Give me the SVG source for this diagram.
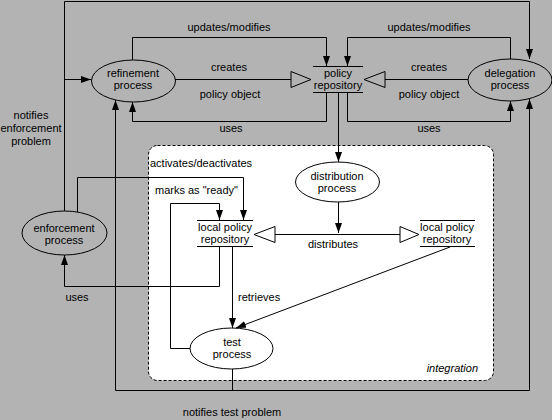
<svg xmlns="http://www.w3.org/2000/svg" width="552" height="420" viewBox="0 0 552 420">
<style>
text{font-family:"Liberation Sans",Arial,sans-serif;font-size:11px;fill:#000}
.c{text-anchor:middle}
.ln{fill:none;stroke:#000;stroke-width:1}
.el{fill:none;stroke:#000;stroke-width:1}
.tri{fill:none;stroke:#000;stroke-width:1}
</style>
<defs>
<marker id="ah" markerUnits="userSpaceOnUse" markerWidth="12" markerHeight="8" refX="10" refY="3.5" orient="auto">
<path d="M0,0 L10,3.5 L0,7 z" fill="#000"/>
</marker>
</defs>
<rect x="0" y="0" width="552" height="420" fill="#b3b3b3"/>
<g id="integration">
<rect x="148.5" y="145.5" width="345" height="235" rx="9" fill="#fff" stroke="#000" stroke-dasharray="3,2"/>
<text x="478" y="372" text-anchor="end" font-style="italic">integration</text>
</g>
<g id="connectors">
<path class="ln" d="M64.5,211 V1.5 H529.5 V59" marker-end="url(#ah)"/>
<path class="ln" d="M64.5,79.5 H91" marker-end="url(#ah)"/>
<path class="ln" d="M132.5,60 V37.5 H326.5 V66" marker-end="url(#ah)"/>
<path class="ln" d="M510.5,59 V37.5 H347.5 V66" marker-end="url(#ah)"/>
<path class="ln" d="M175,79.5 H291"/>
<path class="ln" d="M468,79.5 H385"/>
<path class="ln" d="M326.5,93 V121.5 H132.5 V102" marker-end="url(#ah)"/>
<path class="ln" d="M347.5,93 V121.5 H510.5 V101" marker-end="url(#ah)"/>
<path class="ln" d="M338.5,93 V162" marker-end="url(#ah)"/>
<path class="ln" d="M338.5,202 V233" marker-end="url(#ah)"/>
<path class="ln" d="M275,234.5 H400"/>
<path class="ln" d="M115.5,390.5 V100" marker-end="url(#ah)"/>
<path class="ln" d="M115.5,390.5 H529.5 V99" marker-end="url(#ah)"/>
<path class="ln" d="M232.5,369 V390.5"/>
<path class="ln" d="M77.5,212 V177.5 H243.5 V220" marker-end="url(#ah)"/>
<path class="ln" d="M190,348.5 H170.5 V203.5 H219.5 V220" marker-end="url(#ah)"/>
<path class="ln" d="M219.5,247 V286.5 H64.5 V255" marker-end="url(#ah)"/>
<path class="ln" d="M232.5,247 V328" marker-end="url(#ah)"/>
<path class="ln" d="M450,247 L236,328" marker-end="url(#ah)"/>
<polygon class="tri" points="291,71.5 311,79.5 291,87.5"/>
<polygon class="tri" points="385,71.5 364,79.5 385,87.5"/>
<polygon class="tri" points="275,226.5 254,234.5 275,242.5"/>
<polygon class="tri" points="400,226.5 419,234.5 400,242.5"/>
<text class="c" x="229" y="31">updates/modifies</text>
<text class="c" x="429" y="31">updates/modifies</text>
<text class="c" x="229" y="71">creates</text>
<text class="c" x="429" y="71">creates</text>
<text class="c" x="230" y="98">policy object</text>
<text class="c" x="429" y="98">policy object</text>
<text class="c" x="231" y="132">uses</text>
<text class="c" x="429" y="132">uses</text>
<text class="c" x="31" y="119">notifies</text>
<text class="c" x="31" y="132">enforcement</text>
<text class="c" x="31" y="145">problem</text>
<text x="150" y="167">activates/deactivates</text>
<text x="155" y="194">marks as "ready"</text>
<text class="c" x="333" y="248">distributes</text>
<text x="238" y="301">retrieves</text>
<text class="c" x="77" y="301">uses</text>
<text class="c" x="232" y="416">notifies test problem</text>
</g>
<g id="refinement">
<ellipse class="el" cx="133.5" cy="81" rx="42" ry="21"/>
<text class="c" x="133" y="77">refinement</text>
<text class="c" x="133" y="89">process</text>
</g>
<g id="policy-repository">
<path class="ln" d="M313,66.5 H363 M313,92.5 H363"/>
<text class="c" x="338" y="77">policy</text>
<text class="c" x="338" y="89">repository</text>
</g>
<g id="delegation">
<ellipse class="el" cx="510" cy="80" rx="42" ry="21"/>
<text class="c" x="510" y="77">delegation</text>
<text class="c" x="510" y="89">process</text>
</g>
<g id="enforcement">
<ellipse class="el" cx="64.5" cy="233" rx="42.5" ry="22"/>
<text class="c" x="64" y="232">enforcement</text>
<text class="c" x="64" y="244">process</text>
</g>
<g id="distribution">
<ellipse class="el" cx="337.5" cy="182" rx="42" ry="20"/>
<text class="c" x="337" y="180">distribution</text>
<text class="c" x="337" y="192">process</text>
</g>
<g id="local-repo-left">
<path class="ln" d="M197,220.5 H253 M197,246.5 H253"/>
<text class="c" x="225" y="231">local policy</text>
<text class="c" x="225" y="243">repository</text>
</g>
<g id="local-repo-right">
<path class="ln" d="M420,220.5 H475 M420,246.5 H475"/>
<text class="c" x="447" y="231">local policy</text>
<text class="c" x="447" y="243">repository</text>
</g>
<g id="test">
<ellipse class="el" cx="231.5" cy="348.5" rx="41.5" ry="20.5"/>
<text class="c" x="232" y="346">test</text>
<text class="c" x="232" y="358">process</text>
</g>
</svg>
